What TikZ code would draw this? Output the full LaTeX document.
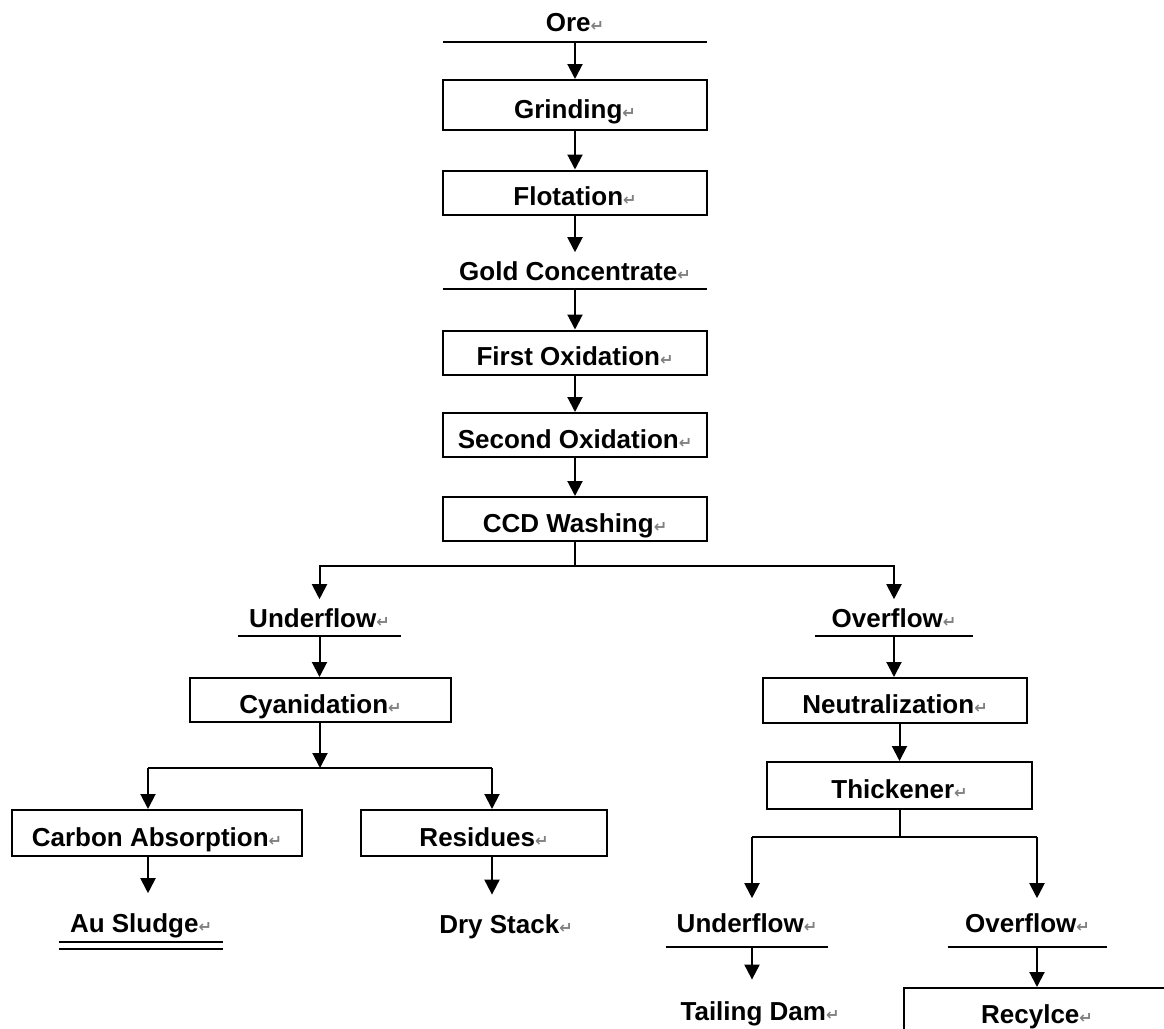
\documentclass[tikz,border=0pt]{standalone}
\usepackage{fontspec}
\setmainfont{Liberation Sans}
\newfontfamily\markfont{DejaVu Sans}
\usetikzlibrary{arrows.meta,positioning,calc}
\newcommand{\retmark}{{\markfont\fontsize{8}{8}\selectfont\color{gray}↵}}

\begin{document}
\begin{tikzpicture}[
  x=0.5pt,y=-0.5pt,
  >={Triangle[width=7.5pt,length=7.5pt]},
  stage/.style  ={draw,line width=1pt,minimum height=22pt,inner sep=0pt,
                  text height=13pt,text depth=0pt,
                  font=\bfseries\fontsize{13}{15}\selectfont},
  stream/.style ={anchor=south,inner xsep=0pt,inner ysep=4pt,
                  text height=10pt,text depth=0pt,
                  font=\bfseries\fontsize{13}{15}\selectfont},
  product/.style={anchor=base,inner xsep=0pt,inner ysep=9pt,
                  text height=10pt,text depth=0pt,
                  font=\bfseries\fontsize{13}{15}\selectfont},
  arr/.style    ={->,line width=1pt},
  link/.style   ={line width=1pt},
  rule/.style   ={line width=1.4pt},
]
\useasboundingbox (0,0) rectangle (1164,1029);
\clip (0,0) rectangle (1164,1029);

%% ── Main column: ore to washing ──────────────────────────────────────────────
\node[stream,minimum width=132pt,inner ysep=5pt] (ore) at (575,42) {Ore\retmark};
\node[stage,minimum width=132pt,minimum height=25pt] (grind) at (575,105)
  {Grinding\retmark};
\node[stage,minimum width=132pt] (flot)   at (575,192.5) {Flotation\retmark};
\node[stream,minimum width=132pt] (gold)  at (575,289) {Gold Concentrate\retmark};
\node[stage,minimum width=132pt] (first)  at (575,352.5) {First Oxidation\retmark};
\node[stage,minimum width=132pt] (second) at (575,435) {Second Oxidation\retmark};
\node[stage,minimum width=132pt] (ccd)    at (575,519) {CCD Washing\retmark};

%% ── Left branch: underflow ───────────────────────────────────────────────────
\node[stream,minimum width=81.5pt] (uf1) at (319.5,636) {Underflow\retmark};
\node[stage,minimum width=130.5pt] (cyan) at (320.5,700) {Cyanidation\retmark};
\node[stage,minimum width=145pt,minimum height=23pt] (carbon) at (157,833)
  {Carbon Absorption\retmark};
\node[stage,minimum width=123pt,minimum height=23pt] (resid) at (484,833)
  {Residues\retmark};
\node[stream,minimum width=82pt,inner ysep=4.5pt] (au) at (141,942)
  {Au Sludge\retmark};
\node[product] (dry) at (506,933) {Dry Stack\retmark};

%% ── Right branch: overflow ───────────────────────────────────────────────────
\node[stream,minimum width=79pt] (of1) at (894,636) {Overflow\retmark};
\node[stage,minimum width=132pt,minimum height=22.5pt] (neut) at (895,700.5)
  {Neutralization\retmark};
\node[stage,minimum width=132.5pt,minimum height=23.5pt] (thick) at (899.5,785.5)
  {Thickener\retmark};
\node[stream,minimum width=81pt,inner ysep=7pt] (uf2) at (747,947)
  {Underflow\retmark};
\node[stream,minimum width=79.5pt,inner ysep=7pt] (of2) at (1027.5,947)
  {Overflow\retmark};
\node[product,inner ysep=10pt] (tail) at (760,1020) {Tailing Dam\retmark};
\node[stage,minimum width=133pt,minimum height=22.5pt] (recy) at (1037,1010.5)
  {Recylce\retmark};

%% ── Split points ─────────────────────────────────────────────────────────────
\coordinate (ccdsplit) at (575,566);
\coordinate (cysplit)  at (320,768);
\coordinate (cyl)      at (148,768);
\coordinate (cyr)      at (492,768);
\coordinate (thsplit)  at (899.5,837);
\coordinate (thl)      at (752,837);
\coordinate (thr)      at (1037,837);

%% ── Stream underlines ────────────────────────────────────────────────────────
\foreach \n in {ore,gold,uf1,of1,uf2,of2}
  \draw[rule] (\n.south west) -- (\n.south east);
\draw[link] (au.south west) -- (au.south east);
\draw[link] ([yshift=-3.5pt]au.south west) -- ([yshift=-3.5pt]au.south east);

%% ── Connections: main column ─────────────────────────────────────────────────
\draw[arr] (ore.south)    -- (grind.north);
\draw[arr] (grind.south)  -- (flot.north);
\draw[arr] (flot.south)   -- (gold.north);
\draw[arr] (gold.south)   -- (first.north);
\draw[arr] (first.south)  -- (second.north);
\draw[arr] (second.south) -- (ccd.north);
\draw[arr] (ccd.south) -- (ccdsplit) -| (uf1.north);
\draw[arr] (ccdsplit) -| (of1.north);

%% ── Connections: left branch ─────────────────────────────────────────────────
\draw[arr] (uf1.south) -- (uf1.south |- cyan.north);
\draw[arr] (cyan.south -| cysplit) -- (cysplit);
\draw[link] (cyl) -- (cyr);
\draw[arr] (cyl) -- (cyl |- carbon.north);
\draw[arr] (cyr) -- (cyr |- resid.north);
\draw[arr] (cyl |- carbon.south) -- ([yshift=5pt]cyl |- au.north);
\draw[arr] (cyr |- resid.south) -- (cyr |- dry.north);

%% ── Connections: right branch ────────────────────────────────────────────────
\draw[arr] (of1.south) -- (of1.south |- neut.north);
\draw[arr] (neut.south -| thick.north) -- (thick.north);
\draw[link] (thick.south) -- (thsplit);
\draw[link] (thl) -- (thr);
\draw[arr] (thl) -- (thl |- uf2.north);
\draw[arr] (thr) -- (thr |- of2.north);
\draw[arr] (thl |- uf2.south) -- (thl |- tail.north);
\draw[arr] (thr |- of2.south) -- (thr |- recy.north);

\end{tikzpicture}
\end{document}
